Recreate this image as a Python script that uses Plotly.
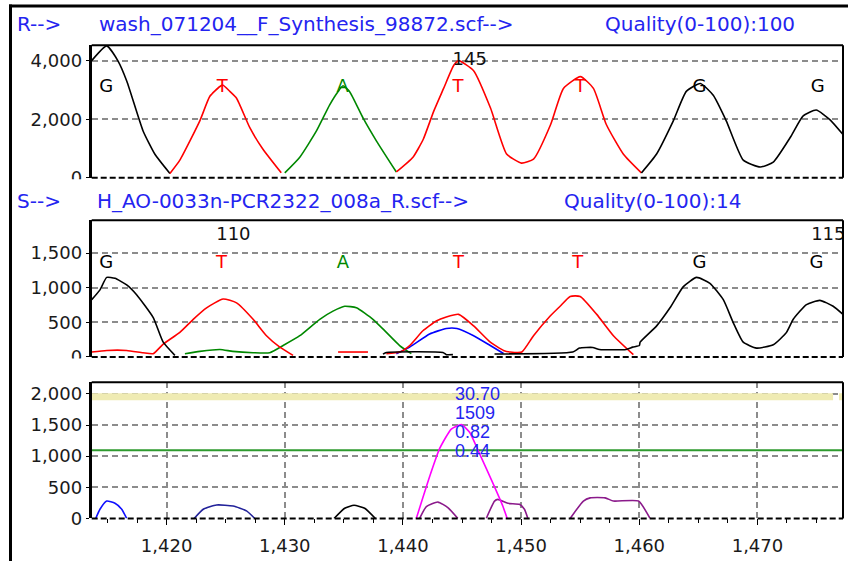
import plotly.graph_objects as go

# ---------------- data ----------------
X_RANGE = [1413.66, 1477.24]

# Reference trace (R) coloured by called base
r_g1_x = [1413.66, 1414.93, 1415.88, 1416.64, 1418.0, 1419.01, 1420.28]
r_g1_y = [4010, 4514, 4000, 3294, 1613, 807, 150]
r_t1_x = [1420.28, 1421.12, 1422.81, 1423.66, 1424.51, 1424.78, 1425.35, 1425.92, 1427.04, 1428.14, 1429.7]
r_t1_y = [150, 605, 1950, 2790, 3126, 3170, 2958, 2723, 1714, 985, 170]
r_a1_x = [1430.0, 1431.27, 1432.68, 1433.8, 1434.5, 1434.93, 1435.49, 1436.62, 1437.75, 1439.44]
r_a1_y = [170, 706, 1603, 2497, 2947, 3149, 2947, 2050, 1267, 200]
r_t2_x = [1439.44, 1440.85, 1441.72, 1442.6, 1443.44, 1444.29, 1444.71, 1445.98, 1447.41, 1448.77,
          1450.03, 1451.05, 1452.49, 1453.58, 1455.02, 1456.12, 1457.22, 1458.66, 1460.18]
r_t2_y = [200, 706, 1320, 2275, 3059, 3842, 4010, 3664, 2387, 817,
          504, 639, 1815, 3059, 3462, 3059, 1815, 807, 168]
r_g2_x = [1460.18, 1461.45, 1462.88, 1463.98, 1465.17, 1466.26, 1467.36, 1468.8, 1470.24, 1471.34,
          1472.77, 1473.87, 1474.97, 1476.15, 1477.24]
r_g2_y = [168, 807, 1950, 2958, 3227, 2824, 1950, 605, 370, 538,
          1378, 2118, 2319, 1983, 1479]

r_base_x = [1414.9, 1424.7, 1434.9, 1444.65, 1455.0, 1465.1, 1475.1]
r_base = ["G", "T", "A", "T", "T", "G", "G"]
r_num_idx = [3]
r_num = ["145"]

# Sample trace (S) per channel (None separates pieces)
s_g_x = [1413.66, 1414.36, 1414.93, 1415.63, 1416.62, 1417.46, 1418.87, 1419.71, 1420.70, None,
         1438.31, 1438.6, 1443.38, 1443.67, 1444.23, None,
         1447.75, 1454.37, 1454.94, 1456.06, 1456.63, 1458.88, 1459.44, 1460.01, 1460.07, 1461.47,
         1462.6, 1463.73, 1464.85, 1465.98, 1467.11, 1467.95, 1468.8, 1469.92, 1471.34, 1472.46,
         1473.03, 1474.15, 1475.28, 1476.41, 1477.24]
s_g_y = [828, 970, 1150, 1136, 1041, 899, 568, 213, 23, None,
         40, 65, 65, 33, 33, None,
         43, 71, 128, 137, 108, 108, 142, 165, 213, 449,
         710, 1017, 1150, 1065, 828, 497, 213, 128, 175, 355,
         544, 757, 818, 733, 615]
s_t_x = [1413.66, 1414.93, 1416.62, 1418.0, 1418.87, 1419.71, 1421.12, 1422.25, 1423.38, 1424.78,
         1425.92, 1427.32, 1428.45, 1429.58, 1430.70, None,
         1434.51, 1437.04, None,
         1438.6, 1439.72, 1440.57, 1441.69, 1442.82, 1443.67, 1444.71, 1445.98, 1447.39, 1448.51,
         1449.08, 1450.06, 1451.05, 1452.46, 1453.30, 1454.15, 1455.0, 1456.40, 1457.81, 1459.50]
s_t_y = [71, 94, 94, 61, 47, 185, 355, 544, 710, 838,
         781, 544, 307, 142, 23, None,
         71, 71, None,
         47, 71, 165, 378, 520, 577, 615, 449, 213, 94,
         71, 71, 307, 591, 733, 875, 875, 615, 307, 33]
s_a_x = [1421.55, 1422.81, 1424.51, 1425.6, 1427.32, 1428.73, 1429.86, 1431.27, 1432.96, 1434.08,
         1435.07, 1436.06, 1437.46, 1438.6, 1439.72, 1440.71]
s_a_y = [47, 80, 108, 80, 61, 61, 165, 307, 544, 662,
         733, 710, 544, 355, 165, 47]
s_c_x = [1439.44, 1440.57, 1442.26, 1443.67, 1444.57, 1445.98, 1447.39, 1448.51]
s_c_y = [47, 142, 331, 412, 412, 307, 165, 50]

s_base_x = [1414.9, 1424.65, 1434.93, 1444.71, 1454.8, 1465.1, 1475.0]
s_base = ["G", "T", "A", "T", "T", "G", "G"]
s_num_idx = [1, 6]
s_num = ["110", "115"]

# Difference panel
d_blue_x = [1414.0, 1414.36, 1414.93, 1415.63, 1416.2, 1416.62]
d_blue_y = [0, 148, 279, 243, 148, 0]
d_navy_x = [1422.33, 1423.1, 1424.23, 1425.63, 1426.76, 1427.46]
d_navy_y = [0, 148, 216, 200, 121, 0]
d_black_x = [1434.17, 1435.07, 1435.86, 1436.76, 1437.67]
d_black_y = [0, 164, 211, 164, 0]
d_mag_x = [1441.13, 1442.26, 1443.1, 1444.09, 1444.94, 1445.64, 1446.48, 1447.61, 1448.45, 1448.82]
d_mag_y = [0, 673, 1120, 1435, 1509, 1383, 1041, 568, 200, 0]
d_pur_x = [1441.41, 1441.98, 1442.96, 1443.8, 1444.65, None,
           1447.05, 1447.75, 1448.03, 1448.88, 1449.86, 1450.28, 1450.57, None,
           1454.15, 1455.27, 1455.84, 1457.11, 1457.81, 1459.93, 1460.91]
d_pur_y = [0, 190, 263, 174, 0, None,
           0, 279, 306, 243, 227, 148, 0, None,
           0, 280, 331, 331, 280, 280, 0]
band_level = 1955
band_x = [1413.66, 1476.4, None, 1476.9, 1477.24]
green_level = 1095
stats = ["30.70", "1509", "0.82", "0.44"]

titles_r = ["R-->", "wash_071204__F_Synthesis_98872.scf-->", "Quality(0-100):100"]
titles_s = ["S-->", "H_AO-0033n-PCR2322_008a_R.scf-->", "Quality(0-100):14"]

# ---------------- layout helpers ----------------
W, H = 848, 571
def fx(p): return p / W
def fy(p): return 1 - p / H

FONT = "DejaVu Sans"
BLUE = "#2424F0"
GRID = "#8c8c8c"
BASE_COL = {"G": "#000000", "T": "#FF0000", "A": "#008800", "C": "#0000FF"}

fig = go.Figure()

def line(x, y, color, ax, width=1.6):
    fig.add_trace(go.Scatter(x=x, y=y, mode="lines", line=dict(color=color, width=width, shape="spline", smoothing=0.5),
                             xaxis=ax[0], yaxis=ax[1], showlegend=False, hoverinfo="skip", connectgaps=False))

A1, A2, A3 = ("x", "y"), ("x2", "y2"), ("x3", "y3")

line(r_g1_x, r_g1_y, "#000000", A1)
line(r_t1_x, r_t1_y, "#FF0000", A1)
line(r_a1_x, r_a1_y, "#008800", A1)
line(r_t2_x, r_t2_y, "#FF0000", A1)
line(r_g2_x, r_g2_y, "#000000", A1)

line(s_a_x, s_a_y, "#008800", A2)
line(s_c_x, s_c_y, "#0000FF", A2)
line(s_t_x, s_t_y, "#FF0000", A2)
line(s_g_x, s_g_y, "#000000", A2)

# threshold lines (panel 3)
fig.add_trace(go.Scatter(x=band_x, y=[band_level if v is not None else None for v in band_x], mode="lines",
                         line=dict(color="#EFEBB3", width=7), xaxis="x3", yaxis="y3", showlegend=False, hoverinfo="skip"))
fig.add_trace(go.Scatter(x=X_RANGE, y=[green_level, green_level], mode="lines",
                         line=dict(color="#2E9A2E", width=2), xaxis="x3", yaxis="y3", showlegend=False, hoverinfo="skip"))
line(d_blue_x, d_blue_y, "#1010FF", A3)
line(d_navy_x, d_navy_y, "#22229A", A3)
line(d_black_x, d_black_y, "#000000", A3)
line(d_pur_x, d_pur_y, "#8B1A8B", A3)
line(d_mag_x, d_mag_y, "#FF00FF", A3)

# base calls
R_LABEL_Y, R_NUM_Y = 3080, 4010
S_LABEL_Y, S_NUM_Y = 1355, 1751
fig.add_trace(go.Scatter(x=r_base_x, y=[R_LABEL_Y] * len(r_base_x), mode="text", text=r_base,
                         textfont=dict(family=FONT, size=18, color=[BASE_COL[b] for b in r_base]),
                         xaxis="x", yaxis="y", cliponaxis=True, showlegend=False, hoverinfo="skip"))
fig.add_trace(go.Scatter(x=[r_base_x[i] + 1.0 for i in r_num_idx], y=[R_NUM_Y] * len(r_num), mode="text", text=r_num,
                         textfont=dict(family=FONT, size=18, color="#111111"),
                         xaxis="x", yaxis="y", cliponaxis=True, showlegend=False, hoverinfo="skip"))
fig.add_trace(go.Scatter(x=s_base_x, y=[S_LABEL_Y] * len(s_base_x), mode="text", text=s_base,
                         textfont=dict(family=FONT, size=18, color=[BASE_COL[b] for b in s_base]),
                         xaxis="x2", yaxis="y2", cliponaxis=True, showlegend=False, hoverinfo="skip"))
fig.add_trace(go.Scatter(x=[s_base_x[i] + 1.0 for i in s_num_idx], y=[S_NUM_Y] * len(s_num), mode="text", text=s_num,
                         textfont=dict(family=FONT, size=18, color="#111111"),
                         xaxis="x2", yaxis="y2", cliponaxis=True, showlegend=False, hoverinfo="skip"))

x_dom = [fx(91.7), fx(843)]
doms = {"y": [fy(181), fy(46)], "y2": [fy(363.3), fy(224.3)], "y3": [fy(527.7), fy(389)]}
yr = {"y": [0, 4538], "y2": [0, 1974], "y3": [0, 2188]}
ydt = {"y": 2000, "y2": 500, "y3": 500}

tickfont = dict(family=FONT, size=18, color="#1a1a1a")
layout = dict(width=W, height=H, margin=dict(l=0, r=0, t=0, b=0), autosize=False,
              paper_bgcolor="white", plot_bgcolor="white", showlegend=False)
for i, ax in enumerate(["y", "y2", "y3"]):
    xa = "xaxis" if i == 0 else f"xaxis{i+1}"
    ya = "yaxis" if i == 0 else f"yaxis{i+1}"
    layout[ya] = dict(domain=doms[ax], range=yr[ax], anchor=("x" if i == 0 else f"x{i+1}"),
                      tickmode="linear", tick0=0, dtick=ydt[ax], tickformat=",d",
                      showline=True, linecolor="black", linewidth=3, ticks="outside", ticklen=3,
                      tickcolor="black", showgrid=True, gridcolor=GRID, gridwidth=2, griddash="6px,4px",
                      zeroline=False, tickfont=tickfont, fixedrange=True)
    layout[xa] = dict(domain=x_dom, range=X_RANGE, anchor=ax, showgrid=False, zeroline=False,
                      showticklabels=False, ticks="", showline=False, fixedrange=True)
layout["xaxis3"].update(showticklabels=True, tickmode="linear", tick0=1420, dtick=10, tickformat=",d",
                        ticks="outside", ticklen=6, tickcolor="black", tickfont=tickfont, ticklabelstandoff=5,
                        showgrid=True, gridcolor=GRID, gridwidth=2, griddash="6px,4px",
                        minor=dict(tick0=1420, dtick=2.5, ticks="outside", ticklen=4, tickcolor="black", showgrid=False))

shapes = []
for xr, yrf in [("x", "y"), ("x2", "y2"), ("x3", "y3")]:
    shapes.append(dict(type="line", xref=f"{xr} domain", yref=f"{yrf} domain", x0=0, x1=1, y0=1, y1=1,
                       line=dict(color="black", width=2), layer="above"))
    shapes.append(dict(type="line", xref=f"{xr} domain", yref=f"{yrf} domain", x0=1, x1=1, y0=0, y1=1,
                       line=dict(color="black", width=2), layer="above"))
    shapes.append(dict(type="line", xref=f"{xr} domain", yref=f"{yrf} domain", x0=0, x1=1, y0=0, y1=0,
                       line=dict(color="black", width=2, dash="6px,3px"), layer="above"))
# the "0" labels of the two upper panels are cut off by the panel below in the original
for top, bot in [(182.5, 191), (364.8, 373)]:
    shapes.append(dict(type="rect", xref="paper", yref="paper", x0=fx(55), x1=fx(89.3), y0=fy(bot), y1=fy(top),
                       fillcolor="white", line=dict(width=0), layer="above"))
# outer frame (top & left)
shapes.append(dict(type="line", xref="paper", yref="paper", x0=fx(9), x1=1, y0=fy(6), y1=fy(6),
                   line=dict(color="black", width=3)))
shapes.append(dict(type="line", xref="paper", yref="paper", x0=fx(10.5), x1=fx(10.5), y0=0, y1=fy(4.5),
                   line=dict(color="black", width=3)))
layout["shapes"] = shapes

ann = []
tfont = dict(family=FONT, size=20, color=BLUE)
for texts, xs, ypx in [(titles_r, [15, 97, 603], 24), (titles_s, [15, 95, 562], 205)]:
    for t, xp in zip(texts, xs):
        ann.append(dict(text=t, x=fx(xp), y=fy(ypx), xref="paper", yref="paper", xanchor="left",
                        yanchor="middle", showarrow=False, font=tfont))
for t, ypx in zip(stats, [401.5, 420.5, 439.5, 459]):
    ann.append(dict(text=t, x=fx(453), y=fy(ypx), xref="paper", yref="paper", xanchor="left",
                    yanchor="middle", showarrow=False, font=dict(family="Liberation Sans", size=18, color=BLUE)))
layout["annotations"] = ann

fig.update_layout(**layout)
fig.write_html("out.html")
